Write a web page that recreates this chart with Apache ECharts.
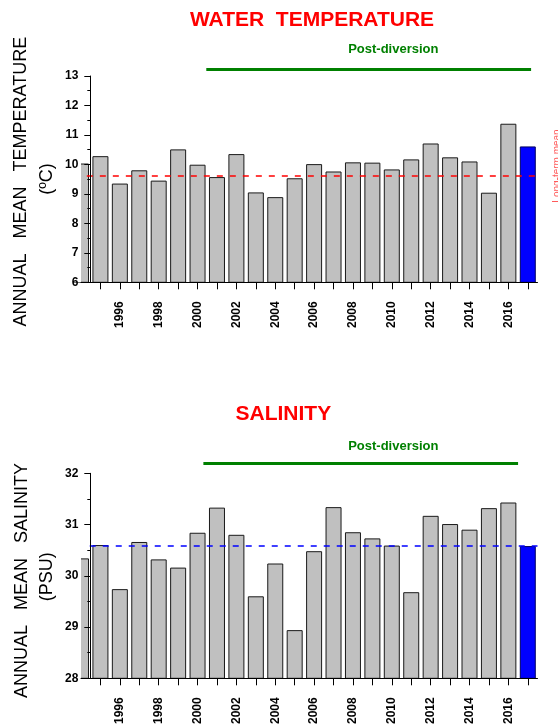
<!DOCTYPE html>
<html><head><meta charset="utf-8">
<style>html,body{margin:0;padding:0;background:#fff}#c{width:558px;height:727px}</style>
<script src="https://cdn.jsdelivr.net/npm/echarts/dist/echarts.min.js"></script>
</head><body><div id="c"></div>
<script>
// ---- data ----
const years = [1994,1995,1996,1997,1998,1999,2000,2001,2002,2003,2004,2005,2006,2007,2008,2009,2010,2011,2012,2013,2014,2015,2016,2017];
const temperature = [10.03,10.28,9.35,9.80,9.45,10.51,9.99,9.57,10.35,9.05,8.89,9.53,10.01,9.76,10.07,10.06,9.83,10.17,10.71,10.24,10.10,9.04,11.38,10.61];
const salinity = [30.34,30.60,29.74,30.66,30.32,30.16,30.84,31.33,30.80,29.60,30.24,28.94,30.48,31.34,30.85,30.73,30.59,29.68,31.17,31.01,30.90,31.32,31.43,30.58];
const tempMean = 9.62;
const salMean = 30.58;
const highlightYear = 2017;
const tickYears = [1995,1996,1997,1998,1999,2000,2001,2002,2003,2004,2005,2006,2007,2008,2009,2010,2011,2012,2013,2014,2015,2016,2017];
const labelYears = [1996,1998,2000,2002,2004,2006,2008,2010,2012,2014,2016];
const tempTicks = [6,7,8,9,10,11,12,13];
const salTicks = [28,29,30,31,32];
const postDivTemp = [2000.45, 2017.17];
const postDivSal = [2000.3, 2016.5];

const FONT = '"Liberation Sans", Arial, sans-serif';
const chart = echarts.init(document.getElementById('c'), null, {renderer: 'canvas'});

function barData(vals) {
  return years.map((y, i) => {
    const item = {value: [y, vals[i]]};
    if (y === highlightYear) item.itemStyle = {color: '#0000ff', borderColor: '#000060'};
    return item;
  });
}
function xAxis(gi) {
  return {
    gridIndex: gi, type: 'value', min: years[0], max: highlightYear + 0.5, z: 10,
    axisLine: {show: true, onZero: false, lineStyle: {color: '#000', width: 1}},
    axisTick: {show: true, customValues: tickYears, length: 7, lineStyle: {color: '#000'}},
    axisLabel: {customValues: labelYears, rotate: 90, margin: 19, color: '#000',
      fontFamily: FONT, fontWeight: 'bold', fontSize: 12, formatter: v => String(v)},
    splitLine: {show: false}
  };
}
function yAxis(gi, ticks) {
  return {
    gridIndex: gi, type: 'value', min: ticks[0], max: ticks[ticks.length - 1], interval: 1,
    offset: -9.3, z: 10,
    axisLine: {show: true, lineStyle: {color: '#000', width: 1}},
    axisTick: {show: true, length: 6, lineStyle: {color: '#000'}},
    minorTick: {show: true, splitNumber: 2, length: 3, lineStyle: {color: '#000'}},
    axisLabel: {margin: 12, color: '#000', fontFamily: FONT, fontWeight: 'bold', fontSize: 12},
    splitLine: {show: false}
  };
}
function barSeries(gi, vals, mean, meanColor, lineStart) {
  return {
    type: 'bar', xAxisIndex: gi, yAxisIndex: gi, barWidth: 16, clip: true,
    data: barData(vals),
    itemStyle: {color: '#c0c0c0', borderColor: '#1a1a1a', borderWidth: 1},
    emphasis: {disabled: true},
    markLine: {
      silent: true, symbol: ['none', 'none'], label: {show: false},
      lineStyle: {color: meanColor, type: [6, 7], width: 1.6},
      data: [[{coord: [lineStart, mean]}, {coord: [highlightYear + 0.5, mean]}]]
    }
  };
}

chart.setOption({
  animation: false,
  grid: [
    {left: 81, right: 20.5, top: 76, height: 206.3},
    {left: 81, right: 20.5, top: 473.3, height: 206.7}
  ],
  xAxis: [xAxis(0), xAxis(1)],
  yAxis: [yAxis(0, tempTicks), yAxis(1, salTicks)],
  series: [
    barSeries(0, temperature, tempMean, '#ff0000', 1994.3),
    barSeries(1, salinity, salMean, '#0000ff', 1994.45)
  ]
});

function px(gi, year) { return chart.convertToPixel({xAxisIndex: gi}, year); }
function txt(x, y, text, size, color, bold, rot) {
  return {type: 'text', x: x, y: y, rotation: rot || 0, silent: true, z: 100,
    style: {text: text, fill: color, font: (bold ? 'bold ' : '') + size + 'px ' + FONT,
      align: 'center', verticalAlign: 'middle'}};
}
// white mask left of each plot's x-axis start (clips the partial first bar like the original)
function mask(gi, top, bottom) {
  const left = px(gi, years[0]);
  return {type: 'rect', silent: true, z: 5, shape: {x: 0, y: top - 2, width: left, height: bottom - top + 2},
    style: {fill: '#ffffff'}};
}
const R = Math.PI / 2;
chart.setOption({
  graphic: [
    mask(0, 76, 282.3),
    mask(1, 473.3, 680),
    txt(312, 20.5, 'WATER  TEMPERATURE', 21, '#ff0000', true),
    txt(283.3, 414, 'SALINITY', 21, '#ff0000', true),
    txt(393.3, 49.5, 'Post-diversion', 13, '#008000', true),
    txt(393.3, 446.5, 'Post-diversion', 13, '#008000', true),
    {type: 'line', silent: true, shape: {x1: px(0, postDivTemp[0]), y1: 69.5, x2: px(0, postDivTemp[1]), y2: 69.5},
      style: {stroke: '#008000', lineWidth: 3}},
    {type: 'line', silent: true, shape: {x1: px(1, postDivSal[0]), y1: 463.5, x2: px(1, postDivSal[1]), y2: 463.5},
      style: {stroke: '#008000', lineWidth: 3}},
    txt(21, 181.7, 'ANNUAL   MEAN   TEMPERATURE', 18, '#000', false, R),
    txt(47, 179, '(\u00baC)', 18, '#000', false, R),
    txt(22, 580.5, 'ANNUAL   MEAN   SALINITY', 18, '#000', false, R),
    txt(47.5, 576.7, '(PSU)', 18, '#000', false, R),
    txt(557, 166, 'Long-term mean', 10, '#ff5a5a', false, R)
  ]
});
</script></body></html>
